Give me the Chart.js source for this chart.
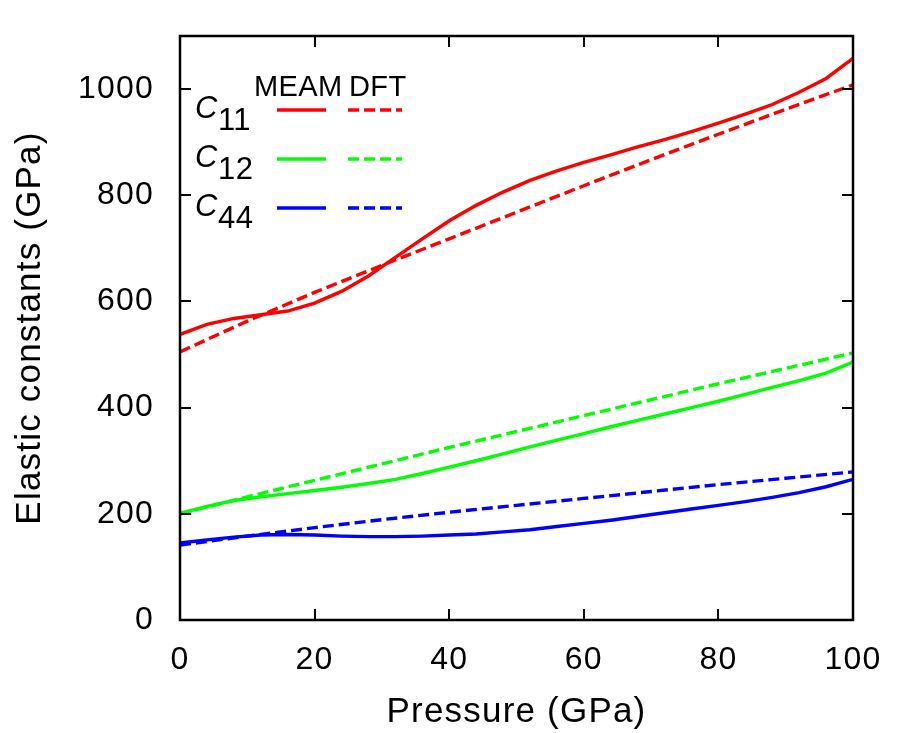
<!DOCTYPE html>
<html>
<head>
<meta charset="utf-8">
<script src="https://cdn.jsdelivr.net/npm/chart.js@4.4.1/dist/chart.umd.min.js"></script>
<style>
  html, body { margin: 0; padding: 0; background: #fff; }
  #wrap { width: 900px; height: 733px; }
</style>
</head>
<body>
<div id="wrap"><canvas id="elasticChart" width="900" height="733"></canvas></div>
<script>
// pressures (GPa)
const meamPressure = [0, 4, 8, 12, 16, 20, 24, 28, 32, 36, 40, 44, 48, 52, 56, 60, 64, 68, 72, 76, 80, 84, 88, 92, 96, 100];
const dftPressure = [0, 10, 20, 30, 40, 50, 60, 70, 80, 90, 100];

// MEAM elastic constants (GPa)
const meamC11 = [538, 557, 568, 575, 582, 597, 619, 648, 683, 718, 752, 781, 806, 828, 846, 862, 876, 891, 905, 920, 936, 953, 971, 994, 1020, 1058];
const meamC12 = [201, 214, 225, 232, 238, 244, 250, 257, 265, 276, 288, 300, 313, 326, 339, 351, 364, 376, 388, 400, 412, 425, 438, 451, 465, 486];
const meamC44 = [145, 151, 156, 160, 161, 160, 158, 157, 157, 158, 160, 162, 166, 170, 176, 182, 188, 195, 202, 209, 216, 223, 231, 240, 251, 265];

// DFT elastic constants (GPa)
const dftC11 = [505, 563, 617, 668, 718, 768, 818, 867, 915, 962, 1008];
const dftC12 = [200, 232, 263, 294, 325, 355, 385, 415, 445, 474, 503];
const dftC44 = [141, 158, 174, 189, 203, 216, 229, 242, 255, 267, 279];

const xTicks = [0, 20, 40, 60, 80, 100];
const yTicks = [0, 200, 400, 600, 800, 1000];
const legendRows = ["11", "12", "44"];
const legendColors = ["#ff0000", "#00ff00", "#0000ff"];

const FONT = "'Liberation Sans', Arial, Helvetica, sans-serif";

function toPoints(xs, ys) {
  return xs.map((x, i) => ({ x: x, y: ys[i] }));
}

function lineSet(label, xs, ys, color, dashed) {
  return {
    label: label,
    data: toPoints(xs, ys),
    borderColor: color,
    borderWidth: 3.4,
    borderDash: dashed ? [11, 5] : [],
    pointRadius: 0,
    tension: 0,
    fill: false,
  };
}

// slightly spaced lettering like the gnuplot output
const spacingPlugin = {
  id: "spacing",
  beforeDraw(chart) {
    chart.ctx.letterSpacing = "1.2px";
  },
};

// frame, inward ticks on all four sides, and the gnuplot-like key
const framePlugin = {
  id: "frame",
  afterDraw(chart) {
    const ctx = chart.ctx;
    const a = chart.chartArea;
    const xs = chart.scales.x;
    const ys = chart.scales.y;
    ctx.save();
    ctx.strokeStyle = "#000";
    ctx.lineWidth = 2;
    ctx.beginPath();
    xTicks.forEach((t) => {
      const px = Math.round(xs.getPixelForValue(t));
      ctx.moveTo(px, a.bottom); ctx.lineTo(px, a.bottom - 11);
      ctx.moveTo(px, a.top); ctx.lineTo(px, a.top + 11);
    });
    yTicks.forEach((t) => {
      const py = Math.round(ys.getPixelForValue(t));
      ctx.moveTo(a.left, py); ctx.lineTo(a.left + 11, py);
      ctx.moveTo(a.right, py); ctx.lineTo(a.right - 11, py);
    });
    ctx.stroke();
    ctx.lineWidth = 2.5;
    ctx.strokeRect(a.left, a.top, a.right - a.left, a.bottom - a.top);

    // key
    ctx.fillStyle = "#000";
    ctx.textBaseline = "alphabetic";
    ctx.letterSpacing = "0.4px";
    ctx.font = "29px " + FONT;
    ctx.fillText("MEAM", 254, 96);
    ctx.fillText("DFT", 349, 96);
    legendRows.forEach((sub, i) => {
      const y = 110 + i * 49;
      ctx.fillStyle = "#000";
      ctx.font = "italic 31px " + FONT;
      ctx.fillText("C", 195, y + 8);
      ctx.font = "31px " + FONT;
      ctx.fillText(sub, 218, y + 20);
      ctx.strokeStyle = legendColors[i];
      ctx.lineWidth = 3.4;
      ctx.setLineDash([]);
      ctx.beginPath(); ctx.moveTo(277, y); ctx.lineTo(326, y); ctx.stroke();
      ctx.setLineDash([11, 5]);
      ctx.beginPath(); ctx.moveTo(348, y); ctx.lineTo(402, y); ctx.stroke();
      ctx.setLineDash([]);
    });
    ctx.restore();
  },
};

const ctx = document.getElementById("elasticChart").getContext("2d");

new Chart(ctx, {
  type: "line",
  data: {
    datasets: [
      lineSet("C11 MEAM", meamPressure, meamC11, "#ff0000", false),
      lineSet("C11 DFT", dftPressure, dftC11, "#ff0000", true),
      lineSet("C12 MEAM", meamPressure, meamC12, "#00ff00", false),
      lineSet("C12 DFT", dftPressure, dftC12, "#00ff00", true),
      lineSet("C44 MEAM", meamPressure, meamC44, "#0000ff", false),
      lineSet("C44 DFT", dftPressure, dftC44, "#0000ff", true),
    ],
  },
  options: {
    responsive: false,
    maintainAspectRatio: false,
    animation: false,
    layout: { padding: { left: 9, right: 47, top: 36, bottom: 0 } },
    plugins: {
      legend: { display: false },
      tooltip: { enabled: false },
    },
    scales: {
      x: {
        type: "linear",
        min: 0,
        max: 100,
        afterBuildTicks: (scale) => { scale.ticks = xTicks.map((v) => ({ value: v })); },
        afterFit: (scale) => {
          scale.height = 113;
          scale.paddingLeft = 0;
          scale.paddingRight = 0;
        },
        grid: { display: false, drawTicks: false },
        border: { display: false },
        ticks: {
          color: "#000",
          padding: 21,
          font: { family: FONT, size: 32 },
          maxRotation: 0,
          callback: (v) => String(v),
        },
        title: {
          display: true,
          text: "Pressure (GPa)",
          color: "#000",
          font: { family: FONT, size: 35 },
          padding: { top: 4, bottom: 0 },
        },
      },
      y: {
        type: "linear",
        min: 0,
        max: 1100,
        afterBuildTicks: (scale) => { scale.ticks = yTicks.map((v) => ({ value: v })); },
        afterFit: (scale) => {
          scale.width = 171;
          scale.paddingTop = 0;
          scale.paddingBottom = 0;
        },
        grid: { display: false, drawTicks: false },
        border: { display: false },
        ticks: {
          color: "#000",
          padding: 26,
          font: { family: FONT, size: 32 },
          callback: (v) => String(v),
        },
        title: {
          display: true,
          text: "Elastic constants (GPa)",
          color: "#000",
          font: { family: FONT, size: 35 },
          padding: { top: 0, bottom: 0 },
        },
      },
    },
  },
  plugins: [spacingPlugin, framePlugin],
});
</script>
</body>
</html>
